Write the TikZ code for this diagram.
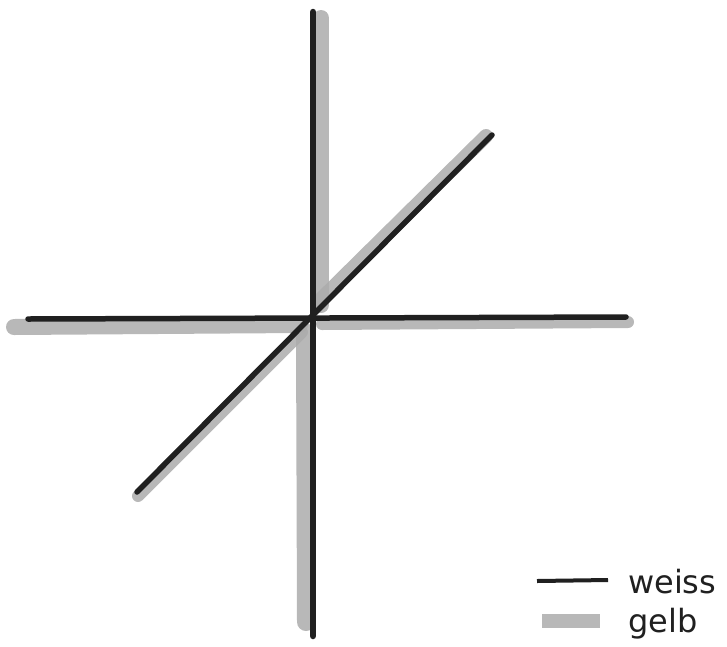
\documentclass[tikz,border=0pt]{standalone}
\usepackage{fontspec}
\setmainfont{DejaVu Sans}
\definecolor{crayon}{HTML}{ABABAB}
\definecolor{pencil}{HTML}{202020}
\tikzset{
  gelbband/.style={draw=crayon, line width=16pt, line cap=round, opacity=0.85},
  weissline/.style={draw=pencil, line width=5.5pt, line cap=round},
  legendtext/.style={anchor=base west, inner sep=0pt, font=\fontsize{32}{32}\selectfont, text=pencil}
}
\begin{document}
\begin{tikzpicture}[x=1pt,y=-1pt]
\useasboundingbox (0,0) rectangle (727,646);
% endpoints
\coordinate (vt) at (313,12);
\coordinate (vb) at (313,636);
\coordinate (hl) at (28,319);
\coordinate (hr) at (626,317);
\coordinate (dl) at (137,492);
\coordinate (dr) at (492,135);
% gelb bands
\coordinate (gvt1) at (321,18);
\coordinate (gvt2) at (321,305);
\coordinate (gvb1) at (305,332);
\coordinate (gvb2) at (306,622);
\coordinate (ghl1) at (14,327);
\coordinate (ghl2) at (300,325);
\coordinate (ghr1) at (322,324);
\coordinate (ghr2) at (628,322);
\coordinate (gdu1) at (318,302);
\coordinate (gdu2) at (486,136);
\coordinate (gdl1) at (138,496);
\coordinate (gdl2) at (302,332);
\draw[gelbband] (gvt1) -- (gvt2);
\draw[gelbband, line width=18pt] (gvb1) -- (gvb2);
\draw[gelbband] (ghl1) -- (ghl2);
\draw[gelbband, line width=12pt] (ghr1) -- (ghr2);
\draw[gelbband, line width=14pt] (gdu1) -- (gdu2);
\draw[gelbband, line width=12pt] (gdl1) -- (gdl2);
% weiss lines
\draw[weissline, line width=6.5pt] (vt) -- (vb);
\draw[weissline] (hl) -- (hr);
\draw[weissline] (dl) -- (dr);
% legend
\coordinate (lw1) at (537,581);
\coordinate (lw2) at (608,580);
\coordinate (lg1) at (542,621);
\coordinate (lg2) at (600,621);
\draw[weissline, line width=4pt, line cap=butt] (lw1) -- (lw2);
\draw[gelbband, line width=14pt, line cap=butt] (lg1) -- (lg2);
\node[legendtext] (tw) at (628,593) {weiss};
\node[legendtext] (tg) at (628,632) {gelb};
\end{tikzpicture}
\end{document}
